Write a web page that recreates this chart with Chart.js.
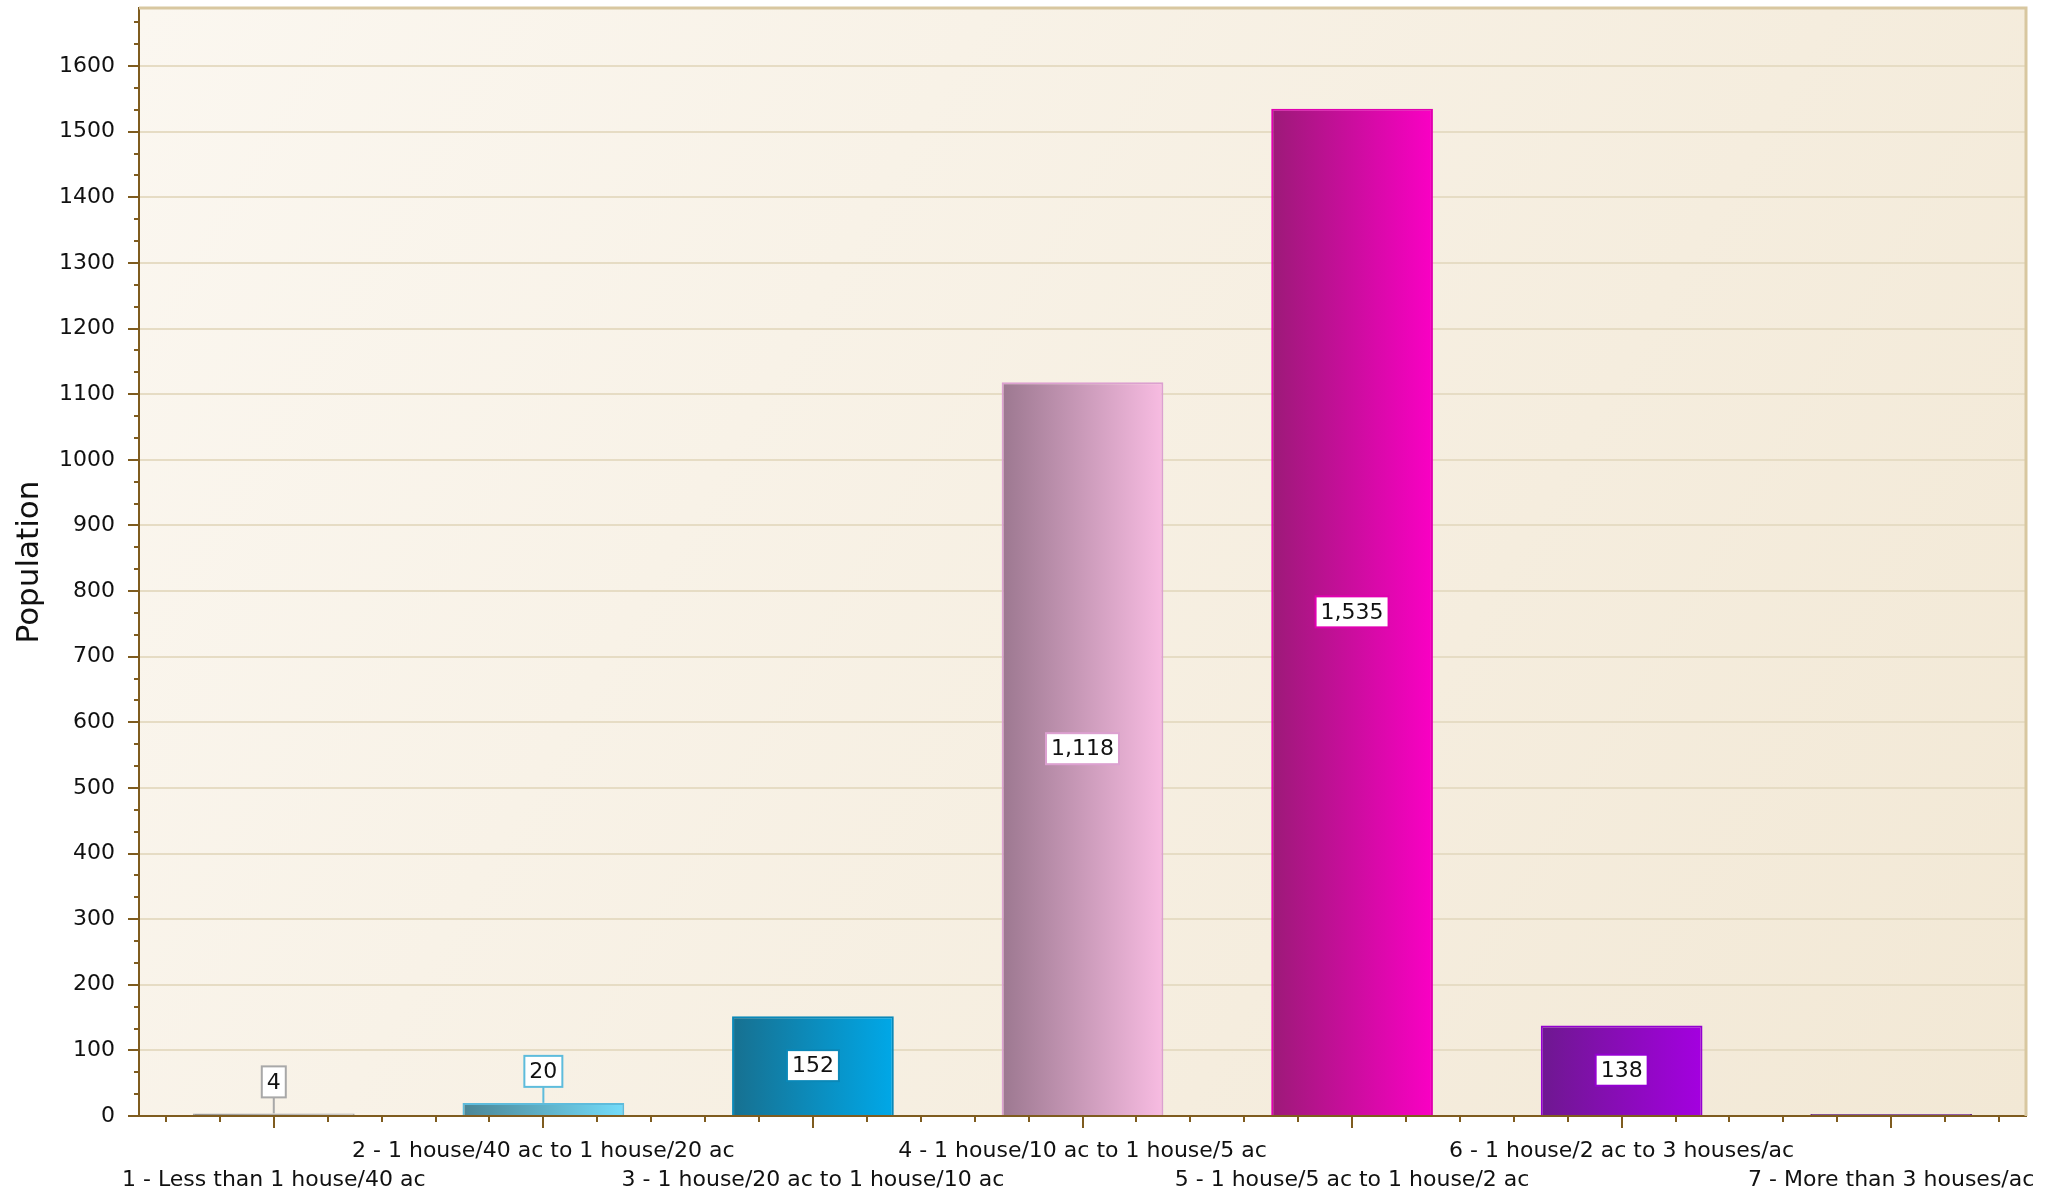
<!DOCTYPE html>
<html>
<head>
<meta charset="utf-8">
<script src="https://cdn.jsdelivr.net/npm/chart.js@4.4.0/dist/chart.umd.min.js"></script>
<style>
  html, body { margin: 0; padding: 0; background: #fff; }
</style>
</head>
<body>
<canvas id="myChart" width="2057" height="1191"></canvas>
<script>
const categories = [
    '1 - Less than 1 house/40 ac',
    '2 - 1 house/40 ac to 1 house/20 ac',
    '3 - 1 house/20 ac to 1 house/10 ac',
    '4 - 1 house/10 ac to 1 house/5 ac',
    '5 - 1 house/5 ac to 1 house/2 ac',
    '6 - 1 house/2 ac to 3 houses/ac',
    '7 - More than 3 houses/ac'
];
const population = [4, 20, 152, 1118, 1535, 138, 0];
const yStep = 100;
const yMax = 1688.5;

// bar gradient colours (left -> right) and edge colours
const leftColors = ['#7a7a7a', '#4a8595', '#177090', '#9c7890', '#9c1a78', '#6e1890', '#5a2080'];
const rightColors = ['#c8c8c8', '#74dcfa', '#00a8e8', '#f8bce2', '#fa00c4', '#a400e0', '#7a30a0'];
const edgeColors = ['#a8a8a8', '#5ebcdc', '#0a88b8', '#dca0d0', '#e000b0', '#9400d0', '#6a2a8a'];

const brown = '#7f5c1f';
const font = "'DejaVu Sans', Verdana, sans-serif";

function barFill(ctx) {
    const chart = ctx.chart;
    const i = ctx.dataIndex;
    if (!chart.chartArea || !chart.scales.x) return leftColors[i];
    const xs = chart.scales.x;
    const half = (xs.width / categories.length) * 0.6 / 2;
    const c = xs.getPixelForValue(i);
    const g = chart.ctx.createLinearGradient(c - half, 0, c + half, 0);
    g.addColorStop(0, leftColors[i]);
    g.addColorStop(1, rightColors[i]);
    return g;
}

const plotBackground = {
    id: 'plotBackground',
    beforeDraw(chart) {
        const { ctx, chartArea: a } = chart;
        ctx.save();
        ctx.fillStyle = '#fff';
        ctx.fillRect(0, 0, chart.width, chart.height);
        const g = ctx.createLinearGradient(a.left, a.top, a.right, a.bottom);
        g.addColorStop(0, '#fbf7f0');
        g.addColorStop(1, '#f2e8d5');
        ctx.fillStyle = g;
        ctx.fillRect(a.left, a.top, a.right - a.left, a.bottom - a.top);
        ctx.restore();
    },
    beforeDatasetsDraw(chart) {
        const { ctx, chartArea: a } = chart;
        ctx.save();
        ctx.strokeStyle = '#d8c7a0';
        ctx.lineWidth = 3;
        ctx.beginPath();
        ctx.moveTo(a.left, a.top);
        ctx.lineTo(a.right, a.top);
        ctx.lineTo(a.right, a.bottom);
        ctx.stroke();
        ctx.restore();
    }
};

const minorTicks = {
    id: 'minorTicks',
    afterDraw(chart) {
        const { ctx, chartArea: a, scales } = chart;
        ctx.save();
        ctx.strokeStyle = brown;
        ctx.lineWidth = 2;
        ctx.beginPath();
        // y minor ticks, three per major step
        for (let v = 0; v <= yMax; v += yStep / 3) {
            if (Math.abs(v / yStep - Math.round(v / yStep)) < 0.01) continue;
            const y = Math.round(scales.y.getPixelForValue(v));
            ctx.moveTo(a.left - 5, y);
            ctx.lineTo(a.left, y);
        }
        // x minor ticks, five per category
        for (let i = 0; i < categories.length; i++) {
            for (const k of [-2, -1, 1, 2]) {
                const x = Math.round(scales.x.getPixelForValue(i + k / 5));
                ctx.moveTo(x, a.bottom);
                ctx.lineTo(x, a.bottom + 6);
            }
        }
        ctx.stroke();
        ctx.restore();
    }
};

const valueLabels = {
    id: 'valueLabels',
    afterDatasetsDraw(chart) {
        const ctx = chart.ctx;
        const meta = chart.getDatasetMeta(0);
        ctx.save();
        ctx.font = '22px ' + font;
        ctx.textAlign = 'center';
        ctx.textBaseline = 'middle';
        meta.data.forEach((bar, i) => {
            const v = population[i];
            if (!v) return;
            const text = v.toLocaleString('en-US');
            const w = ctx.measureText(text).width + 10;
            const h = 31;
            let cy;
            const barH = bar.base - bar.y;
            if (barH > h + 20) {
                cy = (bar.y + bar.base) / 2;
            } else {
                cy = bar.y - 16 - h / 2;
                ctx.strokeStyle = edgeColors[i];
                ctx.lineWidth = 2;
                ctx.beginPath();
                ctx.moveTo(bar.x, bar.y);
                ctx.lineTo(bar.x, cy + h / 2);
                ctx.stroke();
            }
            ctx.fillStyle = '#fff';
            ctx.fillRect(bar.x - w / 2, cy - h / 2, w, h);
            ctx.strokeStyle = edgeColors[i];
            ctx.lineWidth = 2;
            ctx.strokeRect(bar.x - w / 2, cy - h / 2, w, h);
            ctx.fillStyle = '#111';
            ctx.fillText(text, bar.x, cy + 1);
        });
        ctx.restore();
    }
};

const ctx = document.getElementById('myChart').getContext('2d');
const myChart = new Chart(ctx, {
    type: 'bar',
    data: {
        labels: categories,
        datasets: [{
            label: 'Population',
            data: population,
            backgroundColor: barFill,
            borderColor: edgeColors,
            borderWidth: 2,
            borderSkipped: 'start',
            minBarLength: 2,
            barPercentage: 0.6,
            categoryPercentage: 1.0
        }]
    },
    options: {
        responsive: false,
        devicePixelRatio: 1,
        animation: false,
        layout: { padding: { left: 11, right: 31, top: 8, bottom: 0 } },
        plugins: {
            legend: { display: false },
            tooltip: { enabled: false }
        },
        scales: {
            x: {
                afterFit: (scale) => {
                    scale.height = 75;
                    scale.paddingLeft = 0;
                    scale.paddingRight = 0;
                },
                border: { display: true, color: brown, width: 2 },
                grid: {
                    offset: false,
                    drawOnChartArea: false,
                    drawTicks: true,
                    tickLength: 12,
                    tickColor: brown,
                    lineWidth: 2
                },
                ticks: {
                    autoSkip: false,
                    maxRotation: 0,
                    minRotation: 0,
                    padding: 9,
                    color: '#111',
                    font: { family: font, size: 22, lineHeight: '29px' },
                    callback: (val, i) => i % 2 === 1 ? [categories[i]] : ['', categories[i]]
                }
            },
            y: {
                min: 0,
                max: yMax,
                afterFit: (scale) => {
                    scale.width = 128;
                    scale.paddingTop = 0;
                    scale.paddingBottom = 0;
                },
                afterBuildTicks: (scale) => {
                    scale.ticks = scale.ticks.filter(t => t.value % yStep === 0);
                },
                border: { display: true, color: brown, width: 2 },
                grid: {
                    color: '#e6dcc4',
                    lineWidth: 2,
                    drawTicks: true,
                    tickLength: 11,
                    tickColor: brown
                },
                ticks: {
                    stepSize: yStep,
                    padding: 13,
                    color: '#111',
                    font: { family: font, size: 22 },
                    callback: (val) => String(val)
                },
                title: {
                    display: true,
                    text: 'Population',
                    color: '#111',
                    padding: 0,
                    font: { family: font, size: 31 }
                }
            }
        }
    },
    plugins: [plotBackground, minorTicks, valueLabels]
});
</script>
</body>
</html>
